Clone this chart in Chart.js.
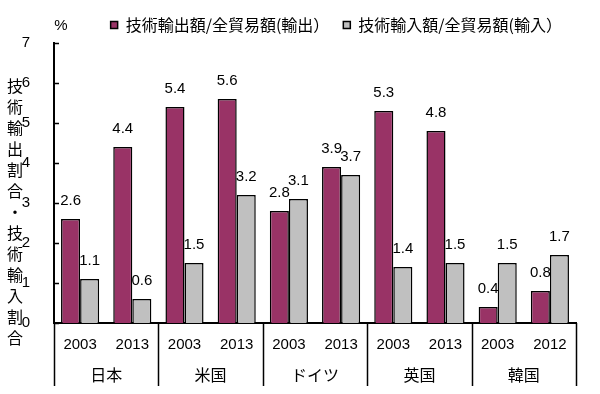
<!DOCTYPE html>
<html>
<head>
<meta charset="utf-8">
<script src="https://cdn.jsdelivr.net/npm/chart.js@4"></script>
<style>
  html, body { margin: 0; padding: 0; background: #fff; }
  #wrap { width: 600px; height: 394px; }
</style>
</head>
<body>
<div id="wrap"><canvas id="chart" width="600" height="394"></canvas></div>
<script>
/* data */
const years       = ['2003', '2013', '2003', '2013', '2003', '2013', '2003', '2013', '2003', '2012'];
const countries   = ['日本', '米国', 'ドイツ', '英国', '韓国'];
const exportShare = [2.6, 4.4, 5.4, 5.6, 2.8, 3.9, 5.3, 4.8, 0.4, 0.8];
const importShare = [1.1, 0.6, 1.5, 3.2, 3.1, 3.7, 1.4, 1.5, 1.5, 1.7];
const seriesNames = ['技術輸出額/全貿易額(輸出）', '技術輸入額/全貿易額(輸入）'];
const yTitle      = '技術輸出割合・技術輸入割合';
const yUnit       = '%';

const NUM_FONT = '"Liberation Sans", Arial, sans-serif';
const JP_FONT  = '"Noto Sans CJK JP", "Liberation Sans", sans-serif';

/* ── value labels above each bar ── */
const valueLabels = {
  id: 'valueLabels',
  afterDatasetsDraw(chart) {
    const ctx = chart.ctx;
    ctx.save();
    ctx.font = '15px ' + NUM_FONT;
    ctx.fillStyle = '#000';
    ctx.textAlign = 'center';
    ctx.textBaseline = 'middle';
    chart.data.datasets.forEach((ds, di) => {
      chart.getDatasetMeta(di).data.forEach((bar, i) => {
        ctx.fillText(ds.data[i].toFixed(1), bar.x, bar.y - 18);
      });
    });
    ctx.restore();
  }
};

/* ── group dividers, inner y ticks, vertical title, unit ── */
const frame = {
  id: 'frame',
  afterDraw(chart) {
    const ctx = chart.ctx;
    const x = chart.scales.x, y = chart.scales.y;
    const area = chart.chartArea;
    const bottom = area.bottom + 63;
    ctx.save();
    ctx.strokeStyle = '#000';
    ctx.lineWidth = 1.5;
    ctx.beginPath();
    for (let i = 0; i <= years.length; i += 2) {
      let px;
      if (i === 0) px = area.left;
      else if (i === years.length) px = area.right;
      else px = (x.getPixelForValue(i - 1) + x.getPixelForValue(i)) / 2;
      ctx.moveTo(Math.round(px) + 0.5, area.bottom);
      ctx.lineTo(Math.round(px) + 0.5, bottom);
    }
    y.ticks.forEach(t => {
      const py = Math.round(y.getPixelForValue(t.value)) + 0.5;
      ctx.moveTo(area.left, py);
      ctx.lineTo(area.left + 5, py);
    });
    ctx.stroke();

    ctx.fillStyle = '#000';
    ctx.textAlign = 'center';
    ctx.textBaseline = 'middle';
    ctx.font = '16px ' + JP_FONT;
    [...yTitle].forEach((ch, i) => ctx.fillText(ch, 15, 86 + i * 21));
    ctx.font = '15px ' + NUM_FONT;
    ctx.fillText(yUnit, 61, 26);
    ctx.restore();
  }
};

new Chart(document.getElementById('chart'), {
  type: 'bar',
  data: {
    labels: years,
    datasets: [
      {
        label: seriesNames[0],
        data: exportShare,
        backgroundColor: '#993366',
        borderColor: '#000',
        borderWidth: 1.5
      },
      {
        label: seriesNames[1],
        data: importShare,
        backgroundColor: '#c0c0c0',
        borderColor: '#000',
        borderWidth: 1.5
      }
    ]
  },
  options: {
    responsive: false,
    animation: false,
    devicePixelRatio: 1,
    layout: { padding: { left: 0, right: 24, top: 3, bottom: 0 } },
    datasets: { bar: { categoryPercentage: 0.73, barPercentage: 1.0 } },
    plugins: {
      legend: {
        display: true,
        position: 'top',
        align: 'end',
        labels: {
          color: '#000',
          font: { size: 16, family: JP_FONT },
          boxWidth: 7, boxHeight: 7,
          padding: 14
        }
      },
      tooltip: { enabled: false }
    },
    scales: {
      x: {
        position: 'bottom',
        weight: 0,
        grid: { display: false },
        border: { color: '#000', width: 2 },
        ticks: { color: '#000', font: { size: 15, family: NUM_FONT }, padding: 5, maxRotation: 0, autoSkip: false },
        afterFit: s => { s.height = 32; }
      },
      x2: {
        type: 'category',
        labels: countries,
        position: 'bottom',
        weight: 1,
        offset: true,
        grid: { display: false },
        border: { display: false },
        ticks: { color: '#000', font: { size: 16, family: JP_FONT }, padding: 2, maxRotation: 0 },
        afterFit: s => { s.height = 39; }
      },
      y: {
        min: 0, max: 7,
        ticks: { stepSize: 1, color: '#000', font: { size: 15, family: NUM_FONT }, padding: 16 },
        grid: { display: false },
        border: { color: '#000', width: 2 },
        afterFit: s => { s.width = 54; }
      }
    }
  },
  plugins: [valueLabels, frame]
});
</script>
</body>
</html>
